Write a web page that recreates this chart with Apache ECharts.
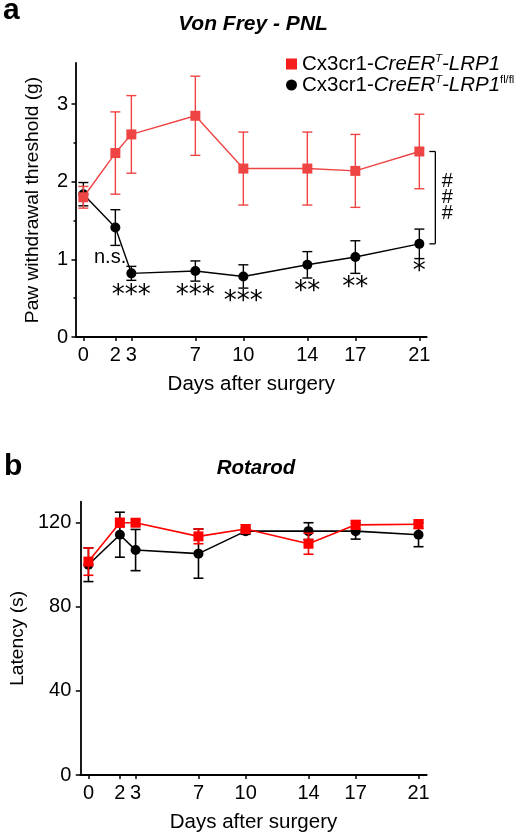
<!DOCTYPE html>
<html>
<head>
<meta charset="utf-8">
<script src="https://cdn.jsdelivr.net/npm/echarts@6/dist/echarts.min.js"></script>
<style>html,body{margin:0;padding:0;background:#fff;}#c{width:525px;height:839px;}</style>
</head>
<body>
<div id="c"></div>
<script>
// ---- data ----
const days = [0, 2, 3, 7, 10, 14, 17, 21];
// Panel a: Von Frey - PNL (paw withdrawal threshold, g)
const vfCreMean = [1.80, 2.37, 2.61, 2.85, 2.17, 2.17, 2.14, 2.39];
const vfCreSem  = [0.14, 0.53, 0.50, 0.51, 0.47, 0.47, 0.47, 0.48];
const vfFlMean  = [1.84, 1.41, 0.82, 0.85, 0.78, 0.93, 1.03, 1.20];
const vfFlSem   = [0.15, 0.23, 0.09, 0.13, 0.15, 0.17, 0.21, 0.19];
const vfTicks = [0, 1, 2, 3];
const vfMinorTicks = [0.5, 1.5, 2.5];
const vfSigX = [1.67, 3, 7, 10, 14, 17, 21];
const vfSigY = [1.02, 0.53, 0.53, 0.45, 0.58, 0.63, 0.83];
const vfSigText = ['n.s.', '***', '***', '***', '**', '**', '*'];
const vfGroupSig = '###';
// Panel b: Rotarod (latency, s)
const rrCreMean = [101.5, 120.0, 120.0, 113.5, 117.0, 110.0, 119.0, 119.3];
const rrCreSem  = [6.5, 2.0, 1.5, 3.5, 2.0, 5.0, 2.0, 2.0];
const rrFlMean  = [100.0, 114.3, 107.0, 105.3, 116.0, 116.0, 116.0, 114.3];
const rrFlSem   = [8.0, 10.7, 9.8, 11.7, 1.5, 4.0, 3.8, 5.7];
const rrTicks = [0, 40, 80, 120];
const nameCre = 'Cx3cr1-CreERT-LRP1';
const nameFl = 'Cx3cr1-CreERT-LRP1fl/fl';

// ---- chart ----
const FF = 'Liberation Sans, Arial, sans-serif';
const RED_A = '#ef4444';
const RED_B = '#ff0000';
const chart = echarts.init(document.getElementById('c'), null, {renderer: 'canvas'});

function pairs(m) { return days.map((d, i) => [d, m[i]]); }
function errData(m, s) { return days.map((d, i) => [d, m[i] - s[i], m[i] + s[i]]); }
function errSeries(xi, yi, m, s, color, z, lw) {
  return {
    type: 'custom', xAxisIndex: xi, yAxisIndex: yi, z: z, clip: false,
    data: errData(m, s), silent: true,
    renderItem: function (params, api) {
      const x = api.value(0);
      const lo = api.coord([x, api.value(1)]);
      const hi = api.coord([x, api.value(2)]);
      const hw = 5;
      const st = {stroke: color, lineWidth: lw, fill: null};
      return {type: 'group', children: [
        {type: 'line', shape: {x1: lo[0], y1: lo[1], x2: hi[0], y2: hi[1]}, style: st},
        {type: 'line', shape: {x1: lo[0] - hw, y1: lo[1], x2: lo[0] + hw, y2: lo[1]}, style: st},
        {type: 'line', shape: {x1: hi[0] - hw, y1: hi[1], x2: hi[0] + hw, y2: hi[1]}, style: st}
      ]};
    }
  };
}
function lineSeries(name, xi, yi, m, color, symbol, z, lw) {
  return {
    type: 'line', name: name, xAxisIndex: xi, yAxisIndex: yi, z: z,
    data: pairs(m), symbol: symbol, symbolSize: 10,
    itemStyle: {color: color}, lineStyle: {color: color, width: lw},
    emphasis: {disabled: true}
  };
}
const axisText = {color: '#000', fontSize: 20, fontFamily: FF};
const nameText = {color: '#000', fontSize: 20.5, fontFamily: FF};
function xAxisDef(gi, min, max) {
  return {
    gridIndex: gi, type: 'value', min: min, max: max,
    axisLine: {show: true, onZero: false, lineStyle: {color: '#000', width: 1.8}},
    axisTick: {show: true, customValues: days, length: 4, lineStyle: {color: '#000', width: 1.5}},
    axisLabel: Object.assign({customValues: days, margin: 8}, axisText),
    splitLine: {show: false},
    name: 'Days after surgery', nameLocation: 'middle', nameGap: 37,
    nameTextStyle: Object.assign({}, nameText)
  };
}
const legendRich = {
  n: {fontSize: 20.5, fontFamily: FF, color: '#000', lineHeight: 21},
  i: {fontSize: 20.5, fontFamily: FF, color: '#000', fontStyle: 'italic', lineHeight: 21},
  s: {fontSize: 11, fontFamily: FF, color: '#000', fontStyle: 'italic', verticalAlign: 'top', lineHeight: 21},
  f: {fontSize: 11, fontFamily: FF, color: '#000', verticalAlign: 'top', lineHeight: 21}
};

const option = {
  animation: false,
  backgroundColor: '#fff',
  grid: [
    {left: 76, top: 63, width: 350.7, height: 274},
    {left: 74, top: 501.7, width: 352.7, height: 273.3}
  ],
  xAxis: [xAxisDef(0, -0.46, 21.46), xAxisDef(1, -0.52, 21.52)],
  yAxis: [
    {
      gridIndex: 0, type: 'value', min: 0, max: 3.53, position: 'left',
      axisLine: {show: true, onZero: false, lineStyle: {color: '#000', width: 1.8}},
      axisTick: {show: true, customValues: vfTicks, length: 4.5, lineStyle: {color: '#000', width: 1.5}},
      axisLabel: Object.assign({customValues: vfTicks, margin: 8}, axisText),
      splitLine: {show: false},
      name: 'Paw withdrawal threshold (g)', nameLocation: 'middle', nameGap: 34,
      nameTextStyle: {color: '#000', fontSize: 19.2, fontFamily: FF}
    },
    {
      gridIndex: 0, type: 'value', min: 0, max: 3.53, position: 'left',
      axisLine: {show: false, onZero: false},
      axisTick: {show: true, customValues: vfMinorTicks, length: 2.5, lineStyle: {color: '#000', width: 1.5}},
      axisLabel: {show: false}, splitLine: {show: false}
    },
    {
      gridIndex: 1, type: 'value', min: 0, max: 130, position: 'left',
      axisLine: {show: true, onZero: false, lineStyle: {color: '#000', width: 1.8}},
      axisTick: {show: true, customValues: rrTicks, length: 4.5, lineStyle: {color: '#000', width: 1.5}},
      axisLabel: Object.assign({customValues: rrTicks, margin: 9}, axisText),
      splitLine: {show: false},
      name: 'Latency (s)', nameLocation: 'middle', nameGap: 48,
      nameTextStyle: {color: '#000', fontSize: 19.2, fontFamily: FF}
    }
  ],
  legend: {
    orient: 'vertical', left: 286, top: 53.5, padding: 0, itemWidth: 11, itemHeight: 11, itemGap: 0,
    selectedMode: false,
    data: [
      {name: nameCre, icon: 'rect', itemStyle: {color: '#f41c1c'}},
      {name: nameFl, icon: 'circle', itemStyle: {color: '#000'}}
    ],
    formatter: function (name) {
      if (name === nameCre) return '{n|Cx3cr1-}{i|CreER}{s|T}{i|-LRP1}';
      return '{n|Cx3cr1-}{i|CreER}{s|T}{i|-LRP1}{f|fl/fl}';
    },
    textStyle: {rich: legendRich}
  },
  graphic: [
    {type: 'text', x: 3, y: 11, style: {text: 'a', font: 'bold 30px ' + FF, fill: '#000', textVerticalAlign: 'middle'}},
    {type: 'text', x: 253, y: 24, style: {text: 'Von Frey - PNL', font: 'italic bold 21px ' + FF, fill: '#000', textAlign: 'center', textVerticalAlign: 'middle'}},
    {type: 'text', x: 4, y: 467, style: {text: 'b', font: 'bold 30px ' + FF, fill: '#000', textVerticalAlign: 'middle'}},
    {type: 'text', x: 256, y: 468, style: {text: 'Rotarod', font: 'italic bold 20.5px ' + FF, fill: '#000', textAlign: 'center', textVerticalAlign: 'middle'}}
  ],
  series: [
    errSeries(0, 0, vfFlMean, vfFlSem, '#000', 2, 1.4),
    lineSeries(nameFl, 0, 0, vfFlMean, '#000', 'circle', 3, 1.4),
    errSeries(0, 0, vfCreMean, vfCreSem, RED_A, 4, 1.4),
    lineSeries(nameCre, 0, 0, vfCreMean, RED_A, 'rect', 5, 1.4),
    // significance labels
    {
      type: 'scatter', xAxisIndex: 0, yAxisIndex: 0, z: 6, symbolSize: 0, silent: true,
      itemStyle: {color: '#000'},
      data: vfSigX.map((x, i) => {
        const isNs = vfSigText[i] === 'n.s.';
        return {
          value: [x, vfSigY[i]], name: vfSigText[i],
          label: isNs
            ? {fontSize: 20, fontFamily: FF}
            : {fontSize: 26, fontFamily: 'DejaVu Sans, sans-serif'}
        };
      }),
      label: {
        show: true, position: 'inside', color: '#000', textBorderWidth: 0, opacity: 1,
        formatter: function (p) { return p.name; }
      },
      labelLayout: {hideOverlap: false}
    },
    // group comparison bracket
    {
      type: 'custom', xAxisIndex: 0, yAxisIndex: 0, z: 6, clip: false, silent: true,
      data: [[days[days.length - 1], vfCreMean[vfCreMean.length - 1], vfFlMean[vfFlMean.length - 1]]],
      renderItem: function (params, api) {
        const top = api.coord([api.value(0), api.value(1)]);
        const bot = api.coord([api.value(0), api.value(2)]);
        const bx = top[0] + 16;
        const st = {stroke: '#000', lineWidth: 1.3, fill: null};
        return {type: 'group', children: [
          {type: 'line', shape: {x1: bx, y1: top[1], x2: bx, y2: bot[1]}, style: st},
          {type: 'line', shape: {x1: bx - 6, y1: top[1], x2: bx, y2: top[1]}, style: st},
          {type: 'line', shape: {x1: bx - 6, y1: bot[1], x2: bx, y2: bot[1]}, style: st},
          {type: 'text', x: bx + 12, y: (top[1] + bot[1]) / 2,
           style: {text: vfGroupSig.split('').join('\n'), font: '20px ' + FF, fill: '#000',
                   textAlign: 'center', textVerticalAlign: 'middle', lineHeight: 16}}
        ]};
      }
    },
    errSeries(1, 2, rrFlMean, rrFlSem, '#000', 2, 1.6),
    lineSeries(nameFl, 1, 2, rrFlMean, '#000', 'circle', 3, 1.6),
    errSeries(1, 2, rrCreMean, rrCreSem, RED_B, 4, 1.6),
    lineSeries(nameCre, 1, 2, rrCreMean, RED_B, 'rect', 5, 1.6)
  ]
};
chart.setOption(option);
</script>
</body>
</html>
